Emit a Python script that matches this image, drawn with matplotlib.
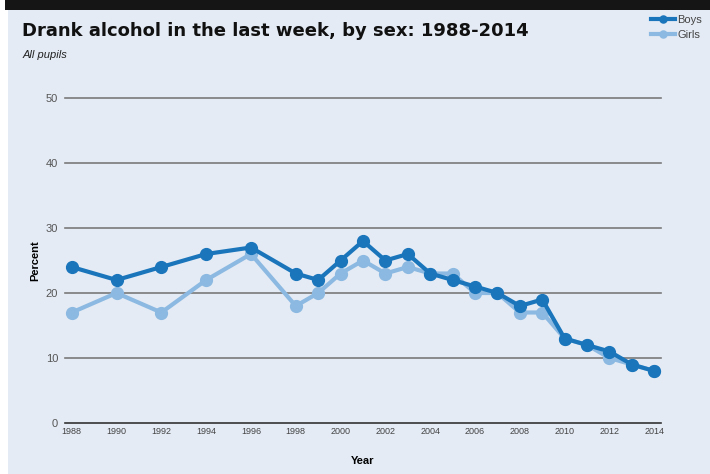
import matplotlib
matplotlib.use('agg')
import matplotlib.pyplot as plt
from matplotlib.patches import Rectangle

# Share of pupils who drank alcohol in the last week
years = [1988, 1990, 1992, 1994, 1996, 1998, 1999, 2000, 2001, 2002, 2003,
         2004, 2005, 2006, 2007, 2008, 2009, 2010, 2011, 2012, 2013, 2014]
boys = [24, 22, 24, 26, 27, 23, 22, 25, 28, 25, 26,
        23, 22, 21, 20, 18, 19, 13, 12, 11, 9, 8]
girls = [17, 20, 17, 22, 26, 18, 20, 23, 25, 23, 24,
         23, 23, 20, 20, 17, 17, 13, 12, 10, 9, 8]
xticks = list(range(1988, 2015, 2))
yticks = [0, 10, 20, 30, 40, 50]

bg = '#e4ebf5'
boys_col = '#1a75bb'
girls_col = '#8cb9e1'

plt.rcParams['font.family'] = ['Liberation Sans', 'DejaVu Sans']

fig = plt.figure(figsize=(7.1, 4.74), dpi=100)
fig.patch.set_facecolor('white')

# panel background and dark band along the top
fig.patches.append(Rectangle((8 / 710, 0), 1, 464 / 474, transform=fig.transFigure,
                             facecolor=bg, edgecolor='none', zorder=-10))
fig.patches.append(Rectangle((5 / 710, 464 / 474), 1, 10 / 474, transform=fig.transFigure,
                             facecolor='#151515', edgecolor='none', zorder=-10))

ax = fig.add_axes([65 / 710, 51 / 474, 596 / 710, 325 / 474])
ax.set_facecolor('none')

ax.plot(years, girls, color=girls_col, lw=3, marker='o', ms=8.5, zorder=3,
        label='Girls', solid_joinstyle='round', clip_on=False)
ax.plot(years, boys, color=boys_col, lw=3, marker='o', ms=8.5, zorder=4,
        label='Boys', solid_joinstyle='round', clip_on=False)

ax.set_xlim(1987.7, 2014.3)
ax.set_ylim(0, 50)
ax.set_yticks(yticks)
ax.set_xticks(xticks)
for y in yticks[1:]:
    ax.axhline(y, color='#7a7a7a', lw=1.2, zorder=1, clip_on=False)
ax.axhline(0, color='#333333', lw=1.2, zorder=1, clip_on=False)

for s in ax.spines.values():
    s.set_visible(False)
ax.tick_params(axis='y', length=0, pad=5, labelsize=8, labelcolor='#555555')
ax.tick_params(axis='x', length=0, pad=3, labelsize=6.5, labelcolor='#444444')

ax.set_ylabel('Percent', fontsize=8, fontweight='bold', labelpad=4)
ax.set_xlabel('Year', fontsize=8, fontweight='bold', labelpad=14)

fig.text(22 / 710, 1 - 31 / 474, 'Drank alcohol in the last week, by sex: 1988-2014',
         fontsize=13, fontweight='bold', family='DejaVu Sans',
         va='center', ha='left', color='#111111')
fig.text(23 / 710, 1 - 55 / 474, 'All pupils', fontsize=8, style='italic',
         va='center', ha='left', color='#222222')

handles, labels = ax.get_legend_handles_labels()
leg = fig.legend(handles[::-1], labels[::-1], loc='upper right',
                 bbox_to_anchor=(712 / 710, 1 - 5 / 474), frameon=False,
                 fontsize=8, handlelength=2.2, handletextpad=0.2,
                 labelspacing=0.45, markerscale=0.6)
for t in leg.get_texts():
    t.set_color('#444444')

fig.savefig('out.png', dpi=100, facecolor=fig.get_facecolor())
